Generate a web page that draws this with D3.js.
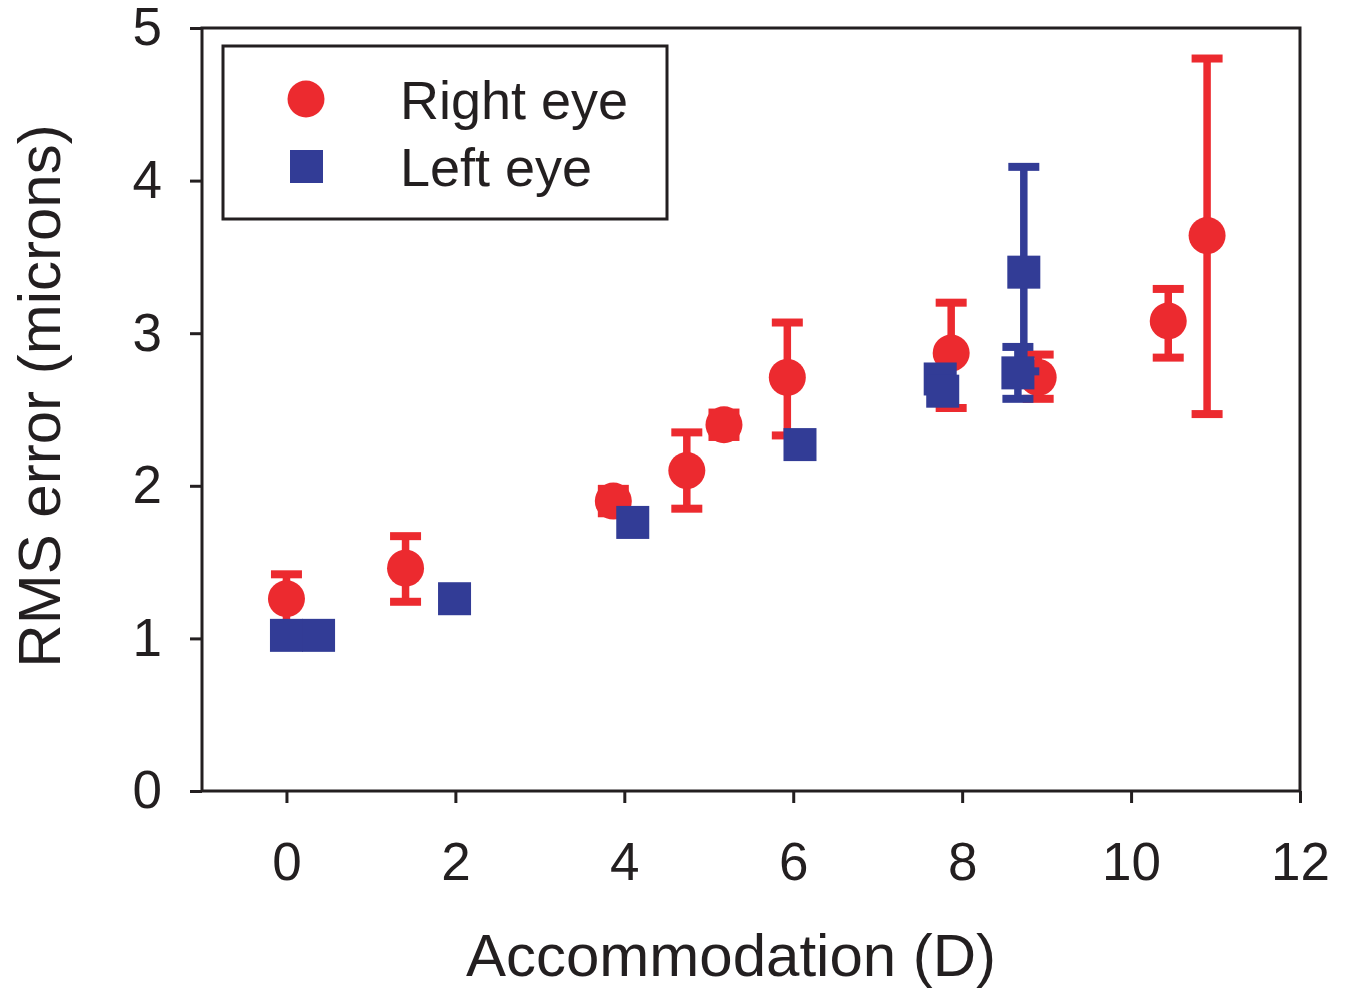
<!DOCTYPE html>
<meta charset="utf-8">
<script src="https://d3js.org/d3.v7.min.js"></script>
<title>RMS error vs accommodation</title>
<style>
body { margin: 0; background: #fff; font-family: Arial, "Liberation Sans", sans-serif; }
.axis path, .axis line { stroke: #231f20; stroke-width: 3px; }
.axis text { fill: #231f20; font-size: 53px; font-family: Arial, "Liberation Sans", sans-serif; }
.title { fill: #231f20; font-size: 60px; }
.legend text { fill: #231f20; font-size: 54px; }
</style>
<body>
<svg id="chart" width="1351" height="990"></svg>
<script>

// right eye (red circles)
var rightX  = [0.00, 1.41, 3.87, 4.74, 5.18, 5.93, 7.87, 8.90, 10.44, 10.90];
var rightY  = [1.26, 1.46, 1.90, 2.10, 2.40, 2.71, 2.87, 2.71, 3.08, 3.64];
var rightLo = [1.10, 1.24, 1.82, 1.85, 2.32, 2.33, 2.51, 2.57, 2.84, 2.47];
var rightHi = [1.42, 1.67, 1.98, 2.35, 2.48, 3.07, 3.20, 2.86, 3.29, 4.80];

// left eye (blue squares)
var leftX  = [0.00, 0.38, 1.99, 4.10, 6.08, 7.74, 7.77, 8.66, 8.73];
var leftY  = [1.02, 1.02, 1.26, 1.76, 2.27, 2.70, 2.62, 2.74, 3.40];
var leftLo = [1.02, 1.02, 1.26, 1.76, 2.27, 2.70, 2.62, 2.57, 2.75];
var leftHi = [1.02, 1.02, 1.26, 1.76, 2.27, 2.70, 2.62, 2.91, 4.09];

var xTicks = [0, 2, 4, 6, 8, 10, 12];
var yTicks = [0, 1, 2, 3, 4, 5];
var seriesNames = ["Right eye", "Left eye"];

var red = "#ec2a2f", blue = "#323c96";

var svg = d3.select("#chart"),
    margin = {top: 28, right: 51, bottom: 199, left: 202},
    width = +svg.attr("width") - margin.left - margin.right,
    height = +svg.attr("height") - margin.top - margin.bottom;

var x = d3.scaleLinear().domain([-1, 12]).range([0, width]);
var y = d3.scaleLinear().domain([0, 5]).range([height, 0]);

var g = svg.append("g")
    .attr("transform", "translate(" + margin.left + "," + margin.top + ")");

// frame
g.append("rect")
    .attr("width", width)
    .attr("height", height)
    .attr("fill", "none")
    .attr("stroke", "#231f20")
    .attr("stroke-width", 3);

g.append("g")
    .attr("class", "axis")
    .attr("transform", "translate(0," + height + ")")
    .call(d3.axisBottom(x).tickValues(xTicks).tickFormat(d3.format("d"))
      .tickSize(12).tickPadding(39).tickSizeOuter(0))
    .call(function(s) { s.select(".domain").remove(); });

g.append("g")
    .attr("class", "axis")
    .call(d3.axisLeft(y).tickValues(yTicks).tickFormat(d3.format("d"))
      .tickSize(12).tickPadding(28).tickSizeOuter(0))
    .call(function(s) { s.select(".domain").remove(); });

function toRows(xs, ys, lo, hi) {
  return xs.map(function(v, i) { return {x: v, y: ys[i], lo: lo[i], hi: hi[i]}; });
}
var right = toRows(rightX, rightY, rightLo, rightHi);
var left = toRows(leftX, leftY, leftLo, leftHi);

function errorBars(data, color) {
  var eb = g.append("g").selectAll("g")
      .data(data.filter(function(d) { return d.hi > d.lo; }))
    .enter().append("g")
      .attr("stroke", color);
  eb.append("line")
      .attr("x1", function(d) { return x(d.x); })
      .attr("x2", function(d) { return x(d.x); })
      .attr("y1", function(d) { return y(d.lo); })
      .attr("y2", function(d) { return y(d.hi); })
      .attr("stroke-width", 7.5);
  ["lo", "hi"].forEach(function(k) {
    eb.append("line")
        .attr("x1", function(d) { return x(d.x) - 15.5; })
        .attr("x2", function(d) { return x(d.x) + 15.5; })
        .attr("y1", function(d) { return y(d[k]); })
        .attr("y2", function(d) { return y(d[k]); })
        .attr("stroke-width", 8);
  });
}

// red first, blue drawn on top
errorBars(right, red);
g.append("g").selectAll("circle")
    .data(right)
  .enter().append("circle")
    .attr("cx", function(d) { return x(d.x); })
    .attr("cy", function(d) { return y(d.y); })
    .attr("r", 18.5)
    .attr("fill", red);

errorBars(left, blue);
g.append("g").selectAll("rect")
    .data(left)
  .enter().append("rect")
    .attr("x", function(d) { return x(d.x) - 16.5; })
    .attr("y", function(d) { return y(d.y) - 16.5; })
    .attr("width", 33)
    .attr("height", 33)
    .attr("fill", blue);

// axis titles
svg.append("text")
    .attr("class", "title")
    .attr("x", 731)
    .attr("y", 976)
    .attr("text-anchor", "middle")
    .text("Accommodation (D)");

svg.append("text")
    .attr("class", "title")
    .attr("transform", "translate(60,396) rotate(-90)")
    .attr("text-anchor", "middle")
    .text("RMS error (microns)");

// legend
var lg = svg.append("g").attr("class", "legend");
lg.append("rect")
    .attr("x", 223).attr("y", 46)
    .attr("width", 444).attr("height", 173)
    .attr("fill", "#fff")
    .attr("stroke", "#231f20")
    .attr("stroke-width", 3);
lg.append("circle")
    .attr("cx", 306).attr("cy", 99).attr("r", 18.5)
    .attr("fill", red);
lg.append("rect")
    .attr("x", 290).attr("y", 150).attr("width", 33).attr("height", 33)
    .attr("fill", blue);
lg.selectAll("text")
    .data(seriesNames)
  .enter().append("text")
    .attr("x", 400)
    .attr("y", function(d, i) { return 119 + i * 67; })
    .text(function(d) { return d; });

</script>
</body>
